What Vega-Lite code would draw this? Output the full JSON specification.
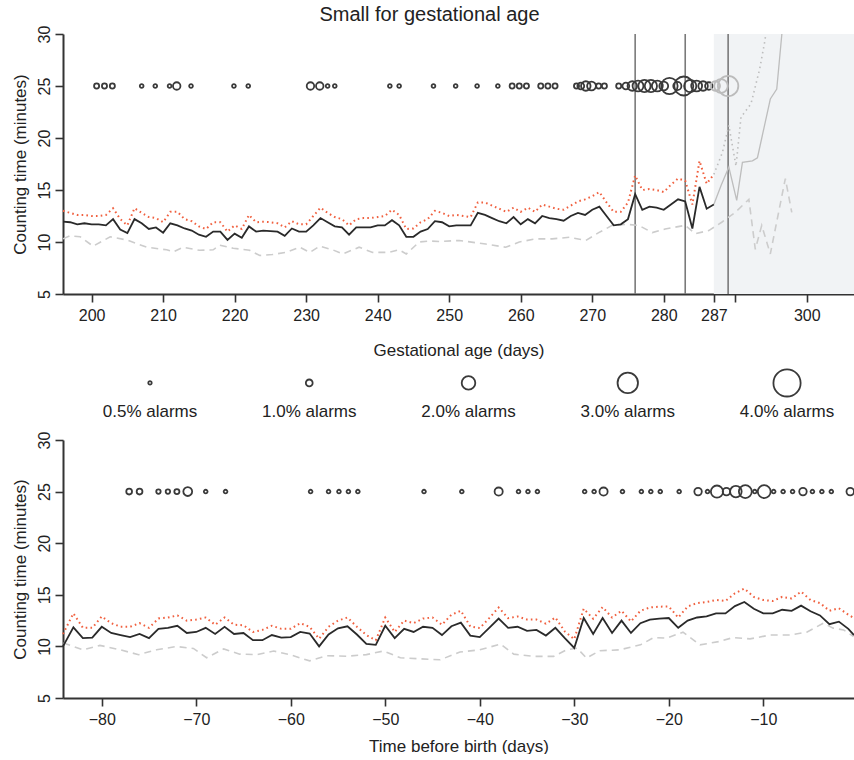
{
  "$schema": "https://vega.github.io/schema/vega-lite/v6.json",
  "padding": {"left": 11, "top": 5, "right": 0, "bottom": 0},
  "config": {
    "view": {"stroke": null},
    "font": "Liberation Sans",
    "axis": {"grid": false, "domainColor": "#333", "domainWidth": 2, "tickColor": "#333", "tickWidth": 1.6, "tickSize": 8, "labelFont": "Liberation Sans", "labelFontSize": 16, "labelColor": "#222", "labelPadding": 3, "labelFlush": false, "labelOverlap": false, "titleFont": "Liberation Sans", "titleFontSize": 17, "titleFontWeight": "normal", "titleColor": "#222"},
    "axisY": {"labelAngle": -90, "labelAlign": "center", "labelBaseline": "bottom", "titlePadding": 7},
    "axisX": {"labelPadding": 5, "titlePadding": 19}
  },
  "datasets": {
    "top_lines": [
      {"day":196,"series":"mean","minutes":11.95},{"day":197,"series":"mean","minutes":11.9},{"day":198,"series":"mean","minutes":11.7},{"day":199,"series":"mean","minutes":11.8},{"day":200,"series":"mean","minutes":11.7},{"day":201,"series":"mean","minutes":11.7},{"day":202,"series":"mean","minutes":11.6},{"day":203,"series":"mean","minutes":12.2},{"day":204,"series":"mean","minutes":11.2},{"day":205,"series":"mean","minutes":10.85},{"day":206,"series":"mean","minutes":12.2},{"day":207,"series":"mean","minutes":11.8},{"day":208,"series":"mean","minutes":11.25},{"day":209,"series":"mean","minutes":11.4},{"day":210,"series":"mean","minutes":10.9},{"day":211,"series":"mean","minutes":11.8},{"day":212,"series":"mean","minutes":11.6},{"day":213,"series":"mean","minutes":11.3},{"day":214,"series":"mean","minutes":11.1},{"day":215,"series":"mean","minutes":10.7},{"day":216,"series":"mean","minutes":10.5},{"day":217,"series":"mean","minutes":11.0},{"day":218,"series":"mean","minutes":11.0},{"day":219,"series":"mean","minutes":10.2},{"day":220,"series":"mean","minutes":10.8},{"day":221,"series":"mean","minutes":10.4},{"day":222,"series":"mean","minutes":11.5},{"day":223,"series":"mean","minutes":11.0},{"day":224,"series":"mean","minutes":11.1},{"day":225,"series":"mean","minutes":11.05},{"day":226,"series":"mean","minutes":11.0},{"day":227,"series":"mean","minutes":10.6},{"day":228,"series":"mean","minutes":11.3},{"day":229,"series":"mean","minutes":11.0},{"day":230,"series":"mean","minutes":11.0},{"day":231,"series":"mean","minutes":11.6},{"day":232,"series":"mean","minutes":12.3},{"day":233,"series":"mean","minutes":11.9},{"day":234,"series":"mean","minutes":11.5},{"day":235,"series":"mean","minutes":11.4},{"day":236,"series":"mean","minutes":10.7},{"day":237,"series":"mean","minutes":11.4},{"day":238,"series":"mean","minutes":11.4},{"day":239,"series":"mean","minutes":11.4},{"day":240,"series":"mean","minutes":11.6},{"day":241,"series":"mean","minutes":11.6},{"day":242,"series":"mean","minutes":12.1},{"day":243,"series":"mean","minutes":11.6},{"day":244,"series":"mean","minutes":10.5},{"day":245,"series":"mean","minutes":10.5},{"day":246,"series":"mean","minutes":11.0},{"day":247,"series":"mean","minutes":11.25},{"day":248,"series":"mean","minutes":12.0},{"day":249,"series":"mean","minutes":11.9},{"day":250,"series":"mean","minutes":11.5},{"day":251,"series":"mean","minutes":11.6},{"day":252,"series":"mean","minutes":11.6},{"day":253,"series":"mean","minutes":11.6},{"day":254,"series":"mean","minutes":12.8},{"day":255,"series":"mean","minutes":12.6},{"day":256,"series":"mean","minutes":12.3},{"day":257,"series":"mean","minutes":12.0},{"day":258,"series":"mean","minutes":11.8},{"day":259,"series":"mean","minutes":12.4},{"day":260,"series":"mean","minutes":11.7},{"day":261,"series":"mean","minutes":12.2},{"day":262,"series":"mean","minutes":11.8},{"day":263,"series":"mean","minutes":12.5},{"day":264,"series":"mean","minutes":12.3},{"day":265,"series":"mean","minutes":12.2},{"day":266,"series":"mean","minutes":12.05},{"day":267,"series":"mean","minutes":12.5},{"day":268,"series":"mean","minutes":12.8},{"day":269,"series":"mean","minutes":12.6},{"day":270,"series":"mean","minutes":13.1},{"day":271,"series":"mean","minutes":13.4},{"day":272,"series":"mean","minutes":12.5},{"day":273,"series":"mean","minutes":11.6},{"day":274,"series":"mean","minutes":11.7},{"day":275,"series":"mean","minutes":12.2},{"day":276,"series":"mean","minutes":14.6},{"day":277,"series":"mean","minutes":13.1},{"day":278,"series":"mean","minutes":13.4},{"day":279,"series":"mean","minutes":13.3},{"day":280,"series":"mean","minutes":13.1},{"day":281,"series":"mean","minutes":13.6},{"day":282,"series":"mean","minutes":14.1},{"day":283,"series":"mean","minutes":13.9},{"day":284,"series":"mean","minutes":11.3},{"day":285,"series":"mean","minutes":15.3},{"day":286,"series":"mean","minutes":13.2},{"day":287,"series":"mean","minutes":13.6},
      {"day":196,"series":"upper","minutes":13.0},{"day":197,"series":"upper","minutes":12.8},{"day":198,"series":"upper","minutes":12.6},{"day":199,"series":"upper","minutes":12.6},{"day":200,"series":"upper","minutes":12.5},{"day":201,"series":"upper","minutes":12.5},{"day":202,"series":"upper","minutes":12.6},{"day":203,"series":"upper","minutes":13.25},{"day":204,"series":"upper","minutes":12.2},{"day":205,"series":"upper","minutes":11.6},{"day":206,"series":"upper","minutes":13.25},{"day":207,"series":"upper","minutes":12.8},{"day":208,"series":"upper","minutes":12.4},{"day":209,"series":"upper","minutes":12.3},{"day":210,"series":"upper","minutes":11.9},{"day":211,"series":"upper","minutes":12.9},{"day":212,"series":"upper","minutes":12.9},{"day":213,"series":"upper","minutes":12.2},{"day":214,"series":"upper","minutes":12.0},{"day":215,"series":"upper","minutes":11.5},{"day":216,"series":"upper","minutes":11.25},{"day":217,"series":"upper","minutes":11.9},{"day":218,"series":"upper","minutes":11.9},{"day":219,"series":"upper","minutes":11.0},{"day":220,"series":"upper","minutes":11.6},{"day":221,"series":"upper","minutes":11.25},{"day":222,"series":"upper","minutes":12.6},{"day":223,"series":"upper","minutes":11.9},{"day":224,"series":"upper","minutes":11.95},{"day":225,"series":"upper","minutes":11.9},{"day":226,"series":"upper","minutes":11.8},{"day":227,"series":"upper","minutes":11.4},{"day":228,"series":"upper","minutes":12.0},{"day":229,"series":"upper","minutes":11.7},{"day":230,"series":"upper","minutes":11.7},{"day":231,"series":"upper","minutes":12.5},{"day":232,"series":"upper","minutes":13.3},{"day":233,"series":"upper","minutes":12.8},{"day":234,"series":"upper","minutes":12.4},{"day":235,"series":"upper","minutes":12.2},{"day":236,"series":"upper","minutes":11.6},{"day":237,"series":"upper","minutes":12.2},{"day":238,"series":"upper","minutes":12.3},{"day":239,"series":"upper","minutes":12.3},{"day":240,"series":"upper","minutes":12.4},{"day":241,"series":"upper","minutes":12.5},{"day":242,"series":"upper","minutes":13.1},{"day":243,"series":"upper","minutes":12.6},{"day":244,"series":"upper","minutes":11.25},{"day":245,"series":"upper","minutes":11.3},{"day":246,"series":"upper","minutes":11.9},{"day":247,"series":"upper","minutes":12.2},{"day":248,"series":"upper","minutes":13.0},{"day":249,"series":"upper","minutes":12.8},{"day":250,"series":"upper","minutes":12.5},{"day":251,"series":"upper","minutes":12.6},{"day":252,"series":"upper","minutes":12.5},{"day":253,"series":"upper","minutes":12.4},{"day":254,"series":"upper","minutes":13.8},{"day":255,"series":"upper","minutes":13.8},{"day":256,"series":"upper","minutes":13.5},{"day":257,"series":"upper","minutes":13.2},{"day":258,"series":"upper","minutes":12.9},{"day":259,"series":"upper","minutes":13.3},{"day":260,"series":"upper","minutes":12.9},{"day":261,"series":"upper","minutes":13.3},{"day":262,"series":"upper","minutes":12.9},{"day":263,"series":"upper","minutes":13.6},{"day":264,"series":"upper","minutes":13.4},{"day":265,"series":"upper","minutes":13.2},{"day":266,"series":"upper","minutes":13.1},{"day":267,"series":"upper","minutes":13.5},{"day":268,"series":"upper","minutes":13.9},{"day":269,"series":"upper","minutes":14.1},{"day":270,"series":"upper","minutes":14.4},{"day":271,"series":"upper","minutes":14.8},{"day":272,"series":"upper","minutes":13.8},{"day":273,"series":"upper","minutes":12.9},{"day":274,"series":"upper","minutes":12.9},{"day":275,"series":"upper","minutes":13.8},{"day":276,"series":"upper","minutes":16.4},{"day":277,"series":"upper","minutes":15.0},{"day":278,"series":"upper","minutes":15.1},{"day":279,"series":"upper","minutes":15.0},{"day":280,"series":"upper","minutes":14.8},{"day":281,"series":"upper","minutes":15.5},{"day":282,"series":"upper","minutes":16.1},{"day":283,"series":"upper","minutes":15.9},{"day":284,"series":"upper","minutes":13.6},{"day":285,"series":"upper","minutes":17.8},{"day":286,"series":"upper","minutes":15.6},{"day":287,"series":"upper","minutes":16.5},
      {"day":196.0,"series":"lower","minutes":10.3},{"day":197.0,"series":"lower","minutes":10.6},{"day":198.4,"series":"lower","minutes":10.5},{"day":200.2,"series":"lower","minutes":9.6},{"day":202.6,"series":"lower","minutes":10.5},{"day":204.9,"series":"lower","minutes":10.2},{"day":207.7,"series":"lower","minutes":9.5},{"day":210.5,"series":"lower","minutes":9.25},{"day":211.4,"series":"lower","minutes":9.05},{"day":212.8,"series":"lower","minutes":9.5},{"day":215.1,"series":"lower","minutes":9.2},{"day":217.0,"series":"lower","minutes":9.25},{"day":217.9,"series":"lower","minutes":9.7},{"day":219.8,"series":"lower","minutes":9.4},{"day":222.1,"series":"lower","minutes":9.2},{"day":223.5,"series":"lower","minutes":8.7},{"day":225.3,"series":"lower","minutes":8.8},{"day":227.2,"series":"lower","minutes":9.0},{"day":229.1,"series":"lower","minutes":9.5},{"day":230.5,"series":"lower","minutes":9.0},{"day":231.9,"series":"lower","minutes":9.6},{"day":233.7,"series":"lower","minutes":9.25},{"day":235.1,"series":"lower","minutes":8.85},{"day":237.4,"series":"lower","minutes":9.5},{"day":239.3,"series":"lower","minutes":9.0},{"day":241.6,"series":"lower","minutes":9.0},{"day":243.0,"series":"lower","minutes":9.25},{"day":244.0,"series":"lower","minutes":8.85},{"day":245.8,"series":"lower","minutes":10.0},{"day":247.2,"series":"lower","minutes":10.1},{"day":248.6,"series":"lower","minutes":10.05},{"day":251.4,"series":"lower","minutes":10.15},{"day":255.1,"series":"lower","minutes":9.8},{"day":257.9,"series":"lower","minutes":9.5},{"day":259.8,"series":"lower","minutes":10.0},{"day":262.1,"series":"lower","minutes":10.3},{"day":264.4,"series":"lower","minutes":10.3},{"day":266.8,"series":"lower","minutes":10.45},{"day":269.1,"series":"lower","minutes":10.15},{"day":270.9,"series":"lower","minutes":10.9},{"day":272.8,"series":"lower","minutes":11.6},{"day":274.7,"series":"lower","minutes":11.7},{"day":276.5,"series":"lower","minutes":11.6},{"day":278.4,"series":"lower","minutes":10.9},{"day":280.2,"series":"lower","minutes":11.25},{"day":283.0,"series":"lower","minutes":11.6},{"day":284.4,"series":"lower","minutes":10.8},{"day":286.3,"series":"lower","minutes":11.1},{"day":288.1,"series":"lower","minutes":11.9},{"day":290.0,"series":"lower","minutes":12.85},{"day":291.2,"series":"lower","minutes":13.65},{"day":291.9,"series":"lower","minutes":14.1},{"day":292.8,"series":"lower","minutes":9.3},{"day":293.7,"series":"lower","minutes":11.6},{"day":294.9,"series":"lower","minutes":8.85},{"day":297.0,"series":"lower","minutes":16.1},{"day":297.9,"series":"lower","minutes":12.85},
      {"day":287.0,"series":"mean_after","minutes":13.6},{"day":288.0,"series":"mean_after","minutes":15.4},{"day":289.1,"series":"mean_after","minutes":17.2},{"day":290.2,"series":"mean_after","minutes":14.0},{"day":291.0,"series":"mean_after","minutes":17.65},{"day":292.4,"series":"mean_after","minutes":17.8},{"day":293.1,"series":"mean_after","minutes":18.1},{"day":294.9,"series":"mean_after","minutes":23.75},{"day":295.8,"series":"mean_after","minutes":24.7},{"day":296.5,"series":"mean_after","minutes":29.9},{"day":296.8,"series":"mean_after","minutes":33.0},
      {"day":287.0,"series":"upper_after","minutes":16.5},{"day":288.2,"series":"upper_after","minutes":18.6},{"day":289.1,"series":"upper_after","minutes":21.2},{"day":290.1,"series":"upper_after","minutes":17.3},{"day":290.8,"series":"upper_after","minutes":22.0},{"day":292.2,"series":"upper_after","minutes":23.3},{"day":293.4,"series":"upper_after","minutes":26.6},{"day":294.1,"series":"upper_after","minutes":29.2},{"day":294.5,"series":"upper_after","minutes":31.0}
    ],
    "top_alarms": [
      {"day":200.7,"pct":0.75,"phase":"before"},{"day":201.8,"pct":0.75,"phase":"before"},{"day":202.9,"pct":0.75,"phase":"before"},{"day":207.0,"pct":0.55,"phase":"before"},{"day":208.9,"pct":0.55,"phase":"before"},{"day":210.9,"pct":0.55,"phase":"before"},{"day":211.9,"pct":1.1,"phase":"before"},{"day":213.9,"pct":0.55,"phase":"before"},{"day":219.9,"pct":0.55,"phase":"before"},{"day":221.9,"pct":0.55,"phase":"before"},{"day":230.6,"pct":1.1,"phase":"before"},{"day":231.9,"pct":1.1,"phase":"before"},{"day":233.0,"pct":0.55,"phase":"before"},{"day":234.0,"pct":0.55,"phase":"before"},{"day":241.7,"pct":0.55,"phase":"before"},{"day":243.0,"pct":0.55,"phase":"before"},{"day":247.8,"pct":0.55,"phase":"before"},{"day":250.9,"pct":0.55,"phase":"before"},{"day":253.9,"pct":0.55,"phase":"before"},{"day":256.8,"pct":0.55,"phase":"before"},{"day":258.8,"pct":0.75,"phase":"before"},{"day":259.8,"pct":0.75,"phase":"before"},{"day":260.8,"pct":0.75,"phase":"before"},{"day":262.8,"pct":0.75,"phase":"before"},{"day":263.8,"pct":0.75,"phase":"before"},{"day":264.8,"pct":0.75,"phase":"before"},{"day":267.8,"pct":0.75,"phase":"before"},{"day":268.4,"pct":1.0,"phase":"before"},{"day":269.1,"pct":1.4,"phase":"before"},{"day":269.9,"pct":1.3,"phase":"before"},{"day":270.9,"pct":0.75,"phase":"before"},{"day":271.7,"pct":0.75,"phase":"before"},{"day":273.7,"pct":0.75,"phase":"before"},{"day":274.7,"pct":1.0,"phase":"before"},{"day":275.6,"pct":1.4,"phase":"before"},{"day":276.4,"pct":1.6,"phase":"before"},{"day":277.3,"pct":1.8,"phase":"before"},{"day":278.2,"pct":1.8,"phase":"before"},{"day":279.1,"pct":1.6,"phase":"before"},{"day":280.0,"pct":1.3,"phase":"before"},{"day":280.8,"pct":2.4,"phase":"before"},{"day":281.9,"pct":1.2,"phase":"before"},{"day":282.8,"pct":2.8,"phase":"before"},{"day":283.7,"pct":1.8,"phase":"before"},{"day":284.6,"pct":1.6,"phase":"before"},{"day":285.5,"pct":1.4,"phase":"before"},{"day":286.3,"pct":1.1,"phase":"before"},
      {"day":287.2,"pct":1.4,"phase":"after"},{"day":288.0,"pct":2.0,"phase":"after"},{"day":289.0,"pct":3.0,"phase":"after"}
    ],
    "top_markers": [{"day":276},{"day":283},{"day":289}],
    "top_shade": [{"day":287,"day_end":306.6}],
    "legend_items": [
      {"label":"0.5% alarms","pct":0.5},{"label":"1.0% alarms","pct":1.0},{"label":"2.0% alarms","pct":2.0},{"label":"3.0% alarms","pct":3.0},{"label":"4.0% alarms","pct":4.0}
    ],
    "bottom_lines": [
      {"day":-84.1,"series":"mean","minutes":10.0},{"day":-83,"series":"mean","minutes":11.85},{"day":-82,"series":"mean","minutes":10.8},{"day":-81,"series":"mean","minutes":10.85},{"day":-80,"series":"mean","minutes":11.9},{"day":-79,"series":"mean","minutes":11.3},{"day":-78,"series":"mean","minutes":11.1},{"day":-77,"series":"mean","minutes":10.9},{"day":-76,"series":"mean","minutes":11.2},{"day":-75,"series":"mean","minutes":10.8},{"day":-74,"series":"mean","minutes":11.7},{"day":-73,"series":"mean","minutes":11.8},{"day":-72,"series":"mean","minutes":12.0},{"day":-71,"series":"mean","minutes":11.3},{"day":-70,"series":"mean","minutes":11.4},{"day":-69,"series":"mean","minutes":11.8},{"day":-68,"series":"mean","minutes":11.2},{"day":-67,"series":"mean","minutes":11.9},{"day":-66,"series":"mean","minutes":11.2},{"day":-65,"series":"mean","minutes":11.3},{"day":-64,"series":"mean","minutes":10.6},{"day":-63,"series":"mean","minutes":10.6},{"day":-62,"series":"mean","minutes":11.1},{"day":-61,"series":"mean","minutes":10.85},{"day":-60,"series":"mean","minutes":10.9},{"day":-59,"series":"mean","minutes":11.4},{"day":-58,"series":"mean","minutes":11.25},{"day":-57,"series":"mean","minutes":10.0},{"day":-56,"series":"mean","minutes":11.15},{"day":-55,"series":"mean","minutes":11.75},{"day":-54,"series":"mean","minutes":11.95},{"day":-53,"series":"mean","minutes":11.15},{"day":-52,"series":"mean","minutes":10.25},{"day":-51,"series":"mean","minutes":10.15},{"day":-50,"series":"mean","minutes":12.0},{"day":-49,"series":"mean","minutes":10.8},{"day":-48,"series":"mean","minutes":11.7},{"day":-47,"series":"mean","minutes":11.4},{"day":-46,"series":"mean","minutes":11.9},{"day":-45,"series":"mean","minutes":11.8},{"day":-44,"series":"mean","minutes":11.1},{"day":-43,"series":"mean","minutes":11.95},{"day":-42,"series":"mean","minutes":12.3},{"day":-41,"series":"mean","minutes":11.05},{"day":-40,"series":"mean","minutes":10.9},{"day":-39,"series":"mean","minutes":11.8},{"day":-38,"series":"mean","minutes":12.7},{"day":-37,"series":"mean","minutes":11.8},{"day":-36,"series":"mean","minutes":11.9},{"day":-35,"series":"mean","minutes":11.5},{"day":-34,"series":"mean","minutes":11.6},{"day":-33,"series":"mean","minutes":11.05},{"day":-32,"series":"mean","minutes":11.8},{"day":-31,"series":"mean","minutes":10.8},{"day":-30,"series":"mean","minutes":9.85},{"day":-29,"series":"mean","minutes":12.75},{"day":-28,"series":"mean","minutes":11.2},{"day":-27,"series":"mean","minutes":12.75},{"day":-26,"series":"mean","minutes":11.3},{"day":-25,"series":"mean","minutes":12.5},{"day":-24,"series":"mean","minutes":11.3},{"day":-23,"series":"mean","minutes":12.25},{"day":-22,"series":"mean","minutes":12.6},{"day":-21,"series":"mean","minutes":12.7},{"day":-20,"series":"mean","minutes":12.75},{"day":-19,"series":"mean","minutes":11.8},{"day":-18,"series":"mean","minutes":12.5},{"day":-17,"series":"mean","minutes":12.8},{"day":-16,"series":"mean","minutes":12.9},{"day":-15,"series":"mean","minutes":13.2},{"day":-14,"series":"mean","minutes":13.2},{"day":-13,"series":"mean","minutes":13.9},{"day":-12,"series":"mean","minutes":14.3},{"day":-11,"series":"mean","minutes":13.65},{"day":-10,"series":"mean","minutes":13.2},{"day":-9,"series":"mean","minutes":13.2},{"day":-8,"series":"mean","minutes":13.55},{"day":-7,"series":"mean","minutes":13.45},{"day":-6,"series":"mean","minutes":13.95},{"day":-5,"series":"mean","minutes":13.4},{"day":-4,"series":"mean","minutes":13.0},{"day":-3,"series":"mean","minutes":12.15},{"day":-2,"series":"mean","minutes":12.4},{"day":-1,"series":"mean","minutes":11.7},{"day":-0.4,"series":"mean","minutes":11.1},
      {"day":-84.1,"series":"upper","minutes":11.2},{"day":-83,"series":"upper","minutes":13.2},{"day":-82,"series":"upper","minutes":11.8},{"day":-81,"series":"upper","minutes":11.8},{"day":-80,"series":"upper","minutes":12.9},{"day":-79,"series":"upper","minutes":12.25},{"day":-78,"series":"upper","minutes":11.9},{"day":-77,"series":"upper","minutes":11.9},{"day":-76,"series":"upper","minutes":12.25},{"day":-75,"series":"upper","minutes":11.8},{"day":-74,"series":"upper","minutes":12.7},{"day":-73,"series":"upper","minutes":12.8},{"day":-72,"series":"upper","minutes":13.0},{"day":-71,"series":"upper","minutes":12.5},{"day":-70,"series":"upper","minutes":12.6},{"day":-69,"series":"upper","minutes":12.8},{"day":-68,"series":"upper","minutes":12.1},{"day":-67,"series":"upper","minutes":12.8},{"day":-66,"series":"upper","minutes":12.1},{"day":-65,"series":"upper","minutes":12.05},{"day":-64,"series":"upper","minutes":11.4},{"day":-63,"series":"upper","minutes":11.6},{"day":-62,"series":"upper","minutes":12.0},{"day":-61,"series":"upper","minutes":11.7},{"day":-60,"series":"upper","minutes":11.7},{"day":-59,"series":"upper","minutes":12.25},{"day":-58,"series":"upper","minutes":11.9},{"day":-57,"series":"upper","minutes":10.75},{"day":-56,"series":"upper","minutes":11.9},{"day":-55,"series":"upper","minutes":12.5},{"day":-54,"series":"upper","minutes":12.8},{"day":-53,"series":"upper","minutes":11.9},{"day":-52,"series":"upper","minutes":11.1},{"day":-51,"series":"upper","minutes":10.6},{"day":-50,"series":"upper","minutes":12.8},{"day":-49,"series":"upper","minutes":11.4},{"day":-48,"series":"upper","minutes":12.5},{"day":-47,"series":"upper","minutes":12.25},{"day":-46,"series":"upper","minutes":12.7},{"day":-45,"series":"upper","minutes":12.8},{"day":-44,"series":"upper","minutes":12.1},{"day":-43,"series":"upper","minutes":13.07},{"day":-42,"series":"upper","minutes":13.45},{"day":-41,"series":"upper","minutes":11.93},{"day":-40,"series":"upper","minutes":11.77},{"day":-39,"series":"upper","minutes":12.74},{"day":-38,"series":"upper","minutes":13.77},{"day":-37,"series":"upper","minutes":12.74},{"day":-36,"series":"upper","minutes":12.9},{"day":-35,"series":"upper","minutes":12.6},{"day":-34,"series":"upper","minutes":12.6},{"day":-33,"series":"upper","minutes":12.2},{"day":-32,"series":"upper","minutes":12.8},{"day":-31,"series":"upper","minutes":11.45},{"day":-30,"series":"upper","minutes":10.7},{"day":-29,"series":"upper","minutes":13.65},{"day":-28,"series":"upper","minutes":12.68},{"day":-27,"series":"upper","minutes":13.8},{"day":-26,"series":"upper","minutes":12.8},{"day":-25,"series":"upper","minutes":13.45},{"day":-24,"series":"upper","minutes":12.42},{"day":-23,"series":"upper","minutes":13.45},{"day":-22,"series":"upper","minutes":13.77},{"day":-21,"series":"upper","minutes":13.85},{"day":-20,"series":"upper","minutes":13.87},{"day":-19,"series":"upper","minutes":12.8},{"day":-18,"series":"upper","minutes":13.87},{"day":-17,"series":"upper","minutes":14.2},{"day":-16,"series":"upper","minutes":14.3},{"day":-15,"series":"upper","minutes":14.5},{"day":-14,"series":"upper","minutes":14.4},{"day":-13,"series":"upper","minutes":15.15},{"day":-12,"series":"upper","minutes":15.6},{"day":-11,"series":"upper","minutes":14.8},{"day":-10,"series":"upper","minutes":14.5},{"day":-9,"series":"upper","minutes":14.4},{"day":-8,"series":"upper","minutes":14.8},{"day":-7,"series":"upper","minutes":14.65},{"day":-6,"series":"upper","minutes":15.3},{"day":-5,"series":"upper","minutes":14.5},{"day":-4,"series":"upper","minutes":14.2},{"day":-3,"series":"upper","minutes":13.45},{"day":-2,"series":"upper","minutes":13.7},{"day":-1,"series":"upper","minutes":13.07},{"day":-0.4,"series":"upper","minutes":12.74},
      {"day":-84.06,"series":"lower","minutes":10.32},{"day":-81.95,"series":"lower","minutes":9.67},{"day":-80.2,"series":"lower","minutes":10.1},{"day":-78.06,"series":"lower","minutes":9.67},{"day":-76.1,"series":"lower","minutes":9.2},{"day":-74.2,"series":"lower","minutes":9.67},{"day":-72.1,"series":"lower","minutes":9.99},{"day":-70.3,"series":"lower","minutes":9.8},{"day":-68.9,"series":"lower","minutes":8.9},{"day":-67.1,"series":"lower","minutes":9.75},{"day":-65.4,"series":"lower","minutes":9.25},{"day":-63.6,"series":"lower","minutes":9.2},{"day":-61.8,"series":"lower","minutes":9.55},{"day":-60.1,"series":"lower","minutes":9.2},{"day":-58.0,"series":"lower","minutes":8.6},{"day":-56.2,"series":"lower","minutes":9.1},{"day":-54.1,"series":"lower","minutes":9.05},{"day":-52.0,"series":"lower","minutes":9.2},{"day":-50.2,"series":"lower","minutes":9.55},{"day":-48.4,"series":"lower","minutes":8.9},{"day":-46.3,"series":"lower","minutes":8.8},{"day":-44.2,"series":"lower","minutes":8.7},{"day":-42.1,"series":"lower","minutes":9.45},{"day":-40.0,"series":"lower","minutes":9.67},{"day":-37.8,"series":"lower","minutes":10.22},{"day":-36.4,"series":"lower","minutes":9.25},{"day":-34.3,"series":"lower","minutes":9.03},{"day":-32.2,"series":"lower","minutes":9.03},{"day":-30.8,"series":"lower","minutes":9.67},{"day":-29.7,"series":"lower","minutes":9.83},{"day":-28.7,"series":"lower","minutes":8.87},{"day":-27.3,"series":"lower","minutes":9.58},{"day":-25.2,"series":"lower","minutes":9.67},{"day":-23.0,"series":"lower","minutes":10.15},{"day":-21.6,"series":"lower","minutes":10.86},{"day":-20.2,"series":"lower","minutes":10.8},{"day":-18.5,"series":"lower","minutes":11.38},{"day":-16.7,"series":"lower","minutes":10.15},{"day":-14.6,"series":"lower","minutes":10.48},{"day":-13.2,"series":"lower","minutes":10.86},{"day":-11.4,"series":"lower","minutes":10.73},{"day":-9.3,"series":"lower","minutes":11.1},{"day":-7.2,"series":"lower","minutes":11.1},{"day":-5.4,"series":"lower","minutes":11.38},{"day":-3.65,"series":"lower","minutes":12.25},{"day":-2.6,"series":"lower","minutes":11.77},{"day":-1.5,"series":"lower","minutes":11.6},{"day":-0.45,"series":"lower","minutes":10.96}
    ],
    "bottom_alarms": [
      {"day":-77.1,"pct":0.85},{"day":-76.0,"pct":0.85},{"day":-74.0,"pct":0.65},{"day":-73.0,"pct":0.65},{"day":-72.05,"pct":0.75},{"day":-70.9,"pct":1.3},{"day":-69.0,"pct":0.55},{"day":-66.9,"pct":0.55},{"day":-57.9,"pct":0.55},{"day":-56.0,"pct":0.55},{"day":-54.9,"pct":0.55},{"day":-53.9,"pct":0.55},{"day":-52.9,"pct":0.55},{"day":-45.9,"pct":0.55},{"day":-41.9,"pct":0.55},{"day":-38.0,"pct":1.2},{"day":-35.9,"pct":0.55},{"day":-34.9,"pct":0.55},{"day":-33.9,"pct":0.55},{"day":-28.9,"pct":0.55},{"day":-27.9,"pct":0.55},{"day":-26.9,"pct":1.2},{"day":-24.9,"pct":0.55},{"day":-22.9,"pct":0.55},{"day":-21.9,"pct":0.55},{"day":-20.9,"pct":0.55},{"day":-18.9,"pct":0.55},{"day":-16.9,"pct":1.1},{"day":-15.9,"pct":0.55},{"day":-14.9,"pct":1.8},{"day":-13.9,"pct":1.1},{"day":-12.9,"pct":1.7},{"day":-11.9,"pct":1.9},{"day":-10.9,"pct":0.55},{"day":-9.9,"pct":1.9},{"day":-8.9,"pct":0.55},{"day":-7.9,"pct":0.55},{"day":-6.9,"pct":0.55},{"day":-5.8,"pct":1.1},{"day":-4.8,"pct":0.55},{"day":-3.8,"pct":0.55},{"day":-2.8,"pct":0.55},{"day":-0.8,"pct":1.1}
    ]
  },
  "spacing": 20,
  "bounds": "flush",
  "resolve": {"scale": {"x": "independent", "y": "independent", "size": "independent"}},
  "vconcat": [
    {
      "width": 791,
      "height": 260,
      "title": {"text": "Small for gestational age", "fontSize": 20, "fontWeight": "normal", "font": "Liberation Sans", "color": "#222", "offset": 0, "dx": -29},
      "layer": [
        {
          "data": {"name": "top_shade"},
          "mark": {"type": "rect", "color": "#f1f3f5"},
          "encoding": {
            "x": {"field": "day", "type": "quantitative", "scale": {"domain": [196, 306.6], "nice": false, "zero": false}, "axis": {"title": "Gestational age (days)", "values": [200, 210, 220, 230, 240, 250, 260, 270, 280, 287, 290, 300], "labelExpr": "datum.value == 290 ? '' : datum.label"}},
            "x2": {"field": "day_end"},
            "y": {"datum": 5, "type": "quantitative", "scale": {"domain": [5, 30], "nice": false, "zero": false}, "axis": {"title": "Counting time (minutes)", "values": [5, 10, 15, 20, 25, 30]}},
            "y2": {"datum": 30}
          }
        },
        {
          "data": {"name": "top_markers"},
          "mark": {"type": "rule", "color": "#7a7a7a", "strokeWidth": 1.6},
          "encoding": {"x": {"field": "day", "type": "quantitative"}}
        },
        {
          "data": {"name": "top_lines"},
          "transform": [{"filter": "datum.series == 'lower'"}],
          "mark": {"type": "line", "color": "#cccccc", "strokeWidth": 1.6, "strokeDash": [7, 5], "clip": true},
          "encoding": {"x": {"field": "day", "type": "quantitative"}, "y": {"field": "minutes", "type": "quantitative"}}
        },
        {
          "data": {"name": "top_lines"},
          "transform": [{"filter": "datum.series == 'mean_after'"}],
          "mark": {"type": "line", "color": "#bdbdbd", "strokeWidth": 1.3, "clip": true},
          "encoding": {"x": {"field": "day", "type": "quantitative"}, "y": {"field": "minutes", "type": "quantitative"}}
        },
        {
          "data": {"name": "top_lines"},
          "transform": [{"filter": "datum.series == 'upper_after'"}],
          "mark": {"type": "line", "color": "#bdbdbd", "strokeWidth": 1.6, "strokeDash": [1.5, 3.5], "clip": true},
          "encoding": {"x": {"field": "day", "type": "quantitative"}, "y": {"field": "minutes", "type": "quantitative"}}
        },
        {
          "data": {"name": "top_lines"},
          "transform": [{"filter": "datum.series == 'upper'"}],
          "mark": {"type": "line", "color": "#f0603f", "strokeWidth": 2, "strokeDash": [1.6, 3.2]},
          "encoding": {"x": {"field": "day", "type": "quantitative"}, "y": {"field": "minutes", "type": "quantitative"}}
        },
        {
          "data": {"name": "top_lines"},
          "transform": [{"filter": "datum.series == 'mean'"}],
          "mark": {"type": "line", "color": "#2a2a2a", "strokeWidth": 1.8},
          "encoding": {"x": {"field": "day", "type": "quantitative"}, "y": {"field": "minutes", "type": "quantitative"}}
        },
        {
          "data": {"name": "top_alarms"},
          "transform": [{"filter": "datum.phase == 'before'"}],
          "mark": {"type": "point", "shape": "circle", "filled": false, "stroke": "#3a3a3a", "strokeWidth": 1.8, "opacity": 1},
          "encoding": {"x": {"field": "day", "type": "quantitative"}, "y": {"datum": 25, "type": "quantitative"}, "size": {"field": "pct", "type": "quantitative", "scale": {"type": "pow", "exponent": 2, "domain": [0, 4], "range": [0, 740]}, "legend": null}}
        },
        {
          "data": {"name": "top_alarms"},
          "transform": [{"filter": "datum.phase == 'after'"}],
          "mark": {"type": "point", "shape": "circle", "filled": false, "stroke": "#bbbbbb", "strokeWidth": 1.8, "opacity": 1},
          "encoding": {"x": {"field": "day", "type": "quantitative"}, "y": {"datum": 25, "type": "quantitative"}, "size": {"field": "pct", "type": "quantitative", "scale": {"type": "pow", "exponent": 2, "domain": [0, 4], "range": [0, 740]}, "legend": null}}
        },
        {
          "mark": {"type": "rule", "color": "#444", "strokeWidth": 2},
          "encoding": {"y": {"datum": 30, "type": "quantitative"}}
        }
      ]
    },
    {
      "width": 791,
      "height": 106,
      "data": {"name": "legend_items"},
      "layer": [
        {
          "mark": {"type": "point", "shape": "circle", "filled": false, "stroke": "#3a3a3a", "strokeWidth": 1.8, "opacity": 1},
          "encoding": {
            "x": {"field": "label", "type": "nominal", "sort": null, "scale": {"type": "point", "padding": 0.4834, "align": 0.565}, "axis": null},
            "y": {"datum": 0.35, "type": "quantitative", "scale": {"domain": [0, 1]}, "axis": null},
            "size": {"field": "pct", "type": "quantitative", "scale": {"type": "pow", "exponent": 2, "domain": [0, 4], "range": [0, 740]}, "legend": null}
          }
        },
        {
          "mark": {"type": "text", "font": "Liberation Sans", "fontSize": 17, "color": "#222", "baseline": "middle"},
          "encoding": {
            "x": {"field": "label", "type": "nominal", "sort": null, "axis": null},
            "y": {"datum": 0.08, "type": "quantitative", "axis": null},
            "text": {"field": "label"}
          }
        }
      ]
    },
    {
      "width": 791,
      "height": 258,
      "layer": [
        {
          "data": {"name": "bottom_lines"},
          "transform": [{"filter": "datum.series == 'lower'"}],
          "mark": {"type": "line", "color": "#cccccc", "strokeWidth": 1.6, "strokeDash": [7, 5]},
          "encoding": {
            "x": {"field": "day", "type": "quantitative", "scale": {"domain": [-84.1, -0.4], "nice": false, "zero": false}, "axis": {"title": "Time before birth (days)", "values": [-80, -70, -60, -50, -40, -30, -20, -10], "titlePadding": 11}},
            "y": {"field": "minutes", "type": "quantitative", "scale": {"domain": [5, 30], "nice": false, "zero": false}, "axis": {"title": "Counting time (minutes)", "values": [5, 10, 15, 20, 25, 30]}}
          }
        },
        {
          "data": {"name": "bottom_lines"},
          "transform": [{"filter": "datum.series == 'upper'"}],
          "mark": {"type": "line", "color": "#f0603f", "strokeWidth": 2, "strokeDash": [1.6, 3.2]},
          "encoding": {"x": {"field": "day", "type": "quantitative"}, "y": {"field": "minutes", "type": "quantitative"}}
        },
        {
          "data": {"name": "bottom_lines"},
          "transform": [{"filter": "datum.series == 'mean'"}],
          "mark": {"type": "line", "color": "#2a2a2a", "strokeWidth": 1.8},
          "encoding": {"x": {"field": "day", "type": "quantitative"}, "y": {"field": "minutes", "type": "quantitative"}}
        },
        {
          "data": {"name": "bottom_alarms"},
          "mark": {"type": "point", "shape": "circle", "filled": false, "stroke": "#3a3a3a", "strokeWidth": 1.8, "opacity": 1},
          "encoding": {"x": {"field": "day", "type": "quantitative"}, "y": {"datum": 25, "type": "quantitative"}, "size": {"field": "pct", "type": "quantitative", "scale": {"type": "pow", "exponent": 2, "domain": [0, 4], "range": [0, 740]}, "legend": null}}
        },
        {
          "mark": {"type": "rule", "color": "#444", "strokeWidth": 2},
          "encoding": {"y": {"datum": 30, "type": "quantitative"}}
        }
      ]
    }
  ]
}
